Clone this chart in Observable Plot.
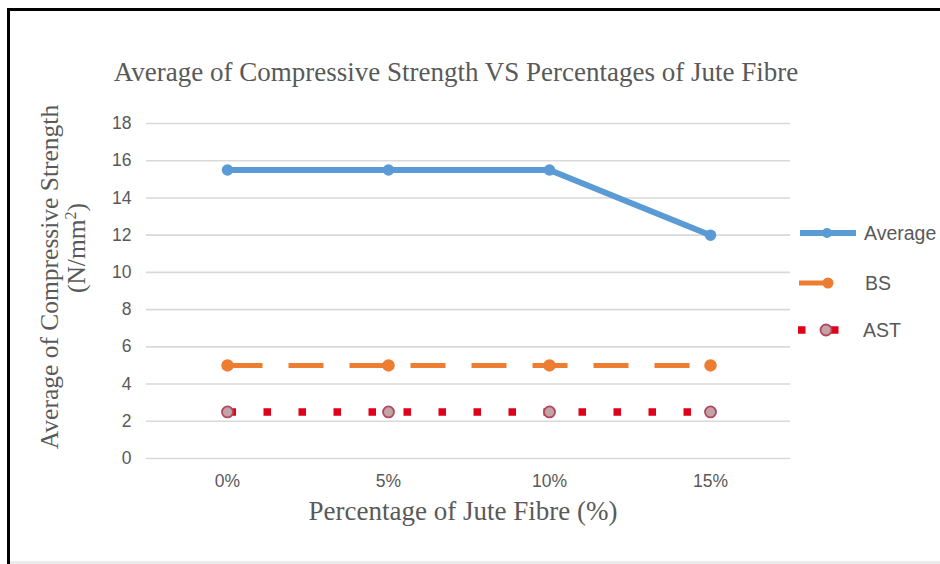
<!DOCTYPE html>
<html>
<head>
<meta charset="utf-8">
<script src="https://cdn.jsdelivr.net/npm/d3@7"></script>
<script src="https://cdn.jsdelivr.net/npm/@observablehq/plot@0.6"></script>
<style>
  html, body { margin: 0; padding: 0; background: #fff; }
  #wrap { position: relative; width: 940px; height: 564px; overflow: hidden; background: #fff; }
  #wrap > svg { position: absolute; left: 0; top: 0; }
  #frame { position: absolute; left: 7px; top: 8px; right: -10px; bottom: 0; border-left: 3px solid #000; border-top: 3px solid #000; }
  #bottomLine { position: absolute; left: 10px; right: 0; bottom: 0; height: 3px; background: #ececec; }
</style>
</head>
<body>
<div id="wrap">
  <div id="frame"></div>
  <div id="bottomLine"></div>
</div>
<script>
// Jute fibre content and measured compressive strengths (N/mm²)
const fibre = ["0%", "5%", "10%", "15%"];
const average = [15.5, 15.5, 15.5, 12];
const bs = [5, 5, 5, 5];
const ast = [2.5, 2.5, 2.5, 2.5];
const yTicks = [0, 2, 4, 6, 8, 10, 12, 14, 16, 18];

const seriesNames = ["Average", "BS", "AST"];

const rows = fibre.map((f, i) => ({ fibre: f, average: average[i], bs: bs[i], ast: ast[i] }));

const textGray = "#595959";
const blue = "#5b9bd5";
const orange = "#ed7d31";
const red = "#e0001a";

const chart = Plot.plot({
  width: 940,
  height: 564,
  marginTop: 123,
  marginBottom: 106,
  marginLeft: 146,
  marginRight: 150,
  style: { background: "transparent", fontFamily: "'Liberation Sans', Arial, sans-serif", color: textGray },
  x: { type: "point", domain: fibre, padding: 0.5, label: null },
  y: { domain: [0, 18], label: null },
  marks: [
    Plot.ruleY(yTicks, { stroke: "#d9d9d9", strokeWidth: 1.6 }),
    Plot.axisY({ ticks: yTicks, tickSize: 0, tickPadding: 15, fontSize: 17.5, fill: textGray, label: null }),
    Plot.axisX({ tickSize: 0, tickPadding: 16, fontSize: 17.5, fill: textGray, label: null }),
    // AST: red square dots
    Plot.line(rows, { x: "fibre", y: "ast", stroke: red, strokeWidth: 7.5, strokeLinecap: "butt", strokeDasharray: "7.5,27.5", strokeDashoffset: -1 }),
    // BS: orange long dash
    Plot.line(rows, { x: "fibre", y: "bs", stroke: orange, strokeWidth: 5, strokeLinecap: "butt", strokeDasharray: "35,26" }),
    // Average: solid blue
    Plot.line(rows, { x: "fibre", y: "average", stroke: blue, strokeWidth: 6, strokeLinejoin: "round" }),
    Plot.dot(rows, { x: "fibre", y: "average", r: 5, fill: blue, stroke: blue }),
    Plot.dot(rows, { x: "fibre", y: "bs", r: 5.5, fill: orange, stroke: orange }),
    Plot.dot(rows, { x: "fibre", y: "ast", r: 5.5, fill: "#c4a2a8", stroke: "#b0485a", strokeWidth: 1.8 })
  ]
});

const wrap = document.getElementById("wrap");
wrap.appendChild(chart);

// Titles and legend
const ns = "http://www.w3.org/2000/svg";
const over = d3.select(wrap).append("svg")
  .attr("xmlns", ns)
  .attr("width", 940).attr("height", 564)
  .style("position", "absolute").style("left", 0).style("top", 0);

const serif = "'Liberation Serif', 'Times New Roman', serif";

over.append("text")
  .attr("x", 456).attr("y", 81)
  .attr("text-anchor", "middle")
  .attr("font-family", serif).attr("font-size", 27)
  .attr("fill", textGray)
  .text("Average of Compressive Strength VS Percentages of Jute Fibre");

over.append("text")
  .attr("x", 463).attr("y", 520)
  .attr("text-anchor", "middle")
  .attr("font-family", serif).attr("font-size", 27)
  .attr("fill", textGray)
  .text("Percentage of Jute Fibre (%)");

over.append("text")
  .attr("transform", "translate(58,277) rotate(-90)")
  .attr("text-anchor", "middle")
  .attr("font-family", serif).attr("font-size", 25.5)
  .attr("fill", textGray)
  .text("Average of Compressive Strength");

const unit = over.append("text")
  .attr("transform", "translate(85,248) rotate(-90)")
  .attr("text-anchor", "middle")
  .attr("font-family", serif).attr("font-size", 25.5)
  .attr("fill", textGray);
unit.append("tspan").text("(N/mm");
unit.append("tspan").attr("font-size", 16).attr("dy", -9).text("2");
unit.append("tspan").attr("dy", 9).text(")");

// Legend
const leg = over.append("g").attr("font-family", "'Liberation Sans', Arial, sans-serif").attr("font-size", 19.5).attr("fill", textGray);
const legY = [233, 283, 330];

leg.append("line").attr("x1", 800).attr("x2", 856).attr("y1", legY[0]).attr("y2", legY[0]).attr("stroke", blue).attr("stroke-width", 6);
leg.append("circle").attr("cx", 827).attr("cy", legY[0]).attr("r", 5).attr("fill", blue);

leg.append("line").attr("x1", 799).attr("x2", 828).attr("y1", legY[1]).attr("y2", legY[1]).attr("stroke", orange).attr("stroke-width", 5);
leg.append("circle").attr("cx", 828).attr("cy", legY[1]).attr("r", 5.5).attr("fill", orange);

leg.append("rect").attr("x", 798).attr("y", legY[2] - 3.75).attr("width", 7.5).attr("height", 7.5).attr("fill", red);
leg.append("rect").attr("x", 831).attr("y", legY[2] - 3.75).attr("width", 7.5).attr("height", 7.5).attr("fill", red);
leg.append("circle").attr("cx", 826).attr("cy", legY[2]).attr("r", 5.5).attr("fill", "#c4a2a8").attr("stroke", "#b0485a").attr("stroke-width", 1.8);

const legX = [864, 865, 863];
seriesNames.forEach((name, i) => {
  leg.append("text").attr("x", legX[i]).attr("y", legY[i]).attr("dy", "0.35em").text(name);
});
</script>
</body>
</html>
